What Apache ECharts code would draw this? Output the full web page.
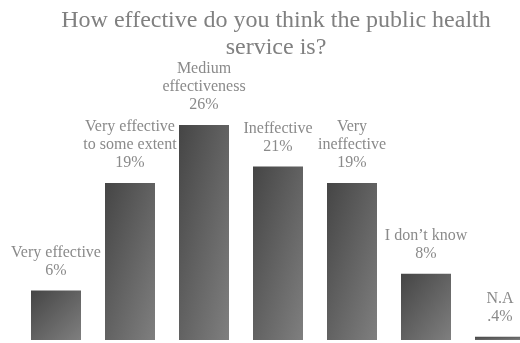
<!DOCTYPE html>
<html>
<head>
<meta charset="utf-8">
<style>
  html, body { margin: 0; padding: 0; background: #ffffff; overflow: hidden; }
  /* the last bar runs past the right edge of the window */
  #chart { width: 537px; height: 343px; }
</style>
<script src="https://cdn.jsdelivr.net/npm/echarts@6/dist/echarts.min.js"></script>
</head>
<body>
<div id="chart"></div>
<script>
// Survey answers: perceived effectiveness of the public health service
const categories = [
  'Very effective',
  'Very effective\nto some extent',
  'Medium\neffectiveness',
  'Ineffective',
  'Very\nineffective',
  'I don\u2019t know',
  'N.A'
];
const shares = [6, 19, 26, 21, 19, 8, 0.4];

// "0.4" is written as ".4%" in the labels
function pctText(v) {
  return String(v).replace(/^0\./, '.') + '%';
}

const serif = 'Liberation Serif';
const BAR_W = 50;
const DARK = '#454545';
const LIGHT = '#7f7f7f';

const chart = echarts.init(document.getElementById('chart'), null, { renderer: 'canvas' });

function baseOption(dataItems) {
  return {
    animation: false,
    backgroundColor: '#ffffff',
    title: {
      text: 'How effective do you think the public health\nservice is?',
      left: 276,
      top: 7,
      padding: 0,
      textAlign: 'center',
      textStyle: {
        fontFamily: serif,
        fontSize: 24,
        fontWeight: 'normal',
        color: '#808080',
        lineHeight: 27
      }
    },
    grid: { left: 19, right: 0, top: 92, bottom: 3, containLabel: false },
    xAxis: { type: 'category', data: categories, show: false },
    yAxis: { type: 'value', min: 0, max: 30, show: false },
    series: [{
      type: 'bar',
      data: dataItems,
      barWidth: BAR_W,
      itemStyle: { color: DARK },
      label: {
        show: true,
        position: 'top',
        distance: 11,
        fontFamily: serif,
        fontSize: 16,
        lineHeight: 18,
        color: '#8a8a8a',
        align: 'center',
        formatter: function (p) {
          return categories[p.dataIndex] + '\n' + pctText(p.value);
        }
      }
    }]
  };
}

chart.setOption(baseOption(shares.slice()));

// Diagonal shading that scales with each bar's shape: the gradient runs from
// the top-left corner to the bottom-right corner in the bar's own box, so the
// direction vector is adjusted to the bar's aspect ratio.
const y0 = chart.convertToPixel({ seriesIndex: 0 }, [0, 0])[1];
const shaded = shares.map(function (v, i) {
  const h = Math.max(1, y0 - chart.convertToPixel({ seriesIndex: 0 }, [i, v])[1]);
  const w = BAR_W;
  const s = h * h + w * w;
  return {
    value: v,
    itemStyle: {
      color: new echarts.graphic.LinearGradient(0, 0, 2 * h * h / s, 2 * w * w / s, [
        { offset: 0, color: DARK },
        { offset: 1, color: LIGHT }
      ])
    }
  };
});
chart.setOption({ series: [{ data: shaded }] });
</script>
</body>
</html>
